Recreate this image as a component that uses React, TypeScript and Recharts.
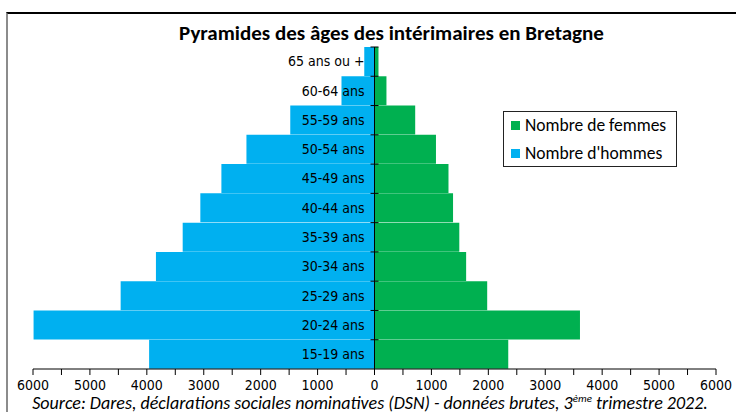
import { BarChart, Bar, XAxis, YAxis, ReferenceLine, Legend, LabelList } from 'recharts'

// Pyramide des âges des intérimaires en Bretagne (Dares, DSN, T3 2022).
// Hommes à gauche (valeurs négatives), femmes à droite, barres empilées par signe.

const AGES = [
  '15-19 ans', '20-24 ans', '25-29 ans', '30-34 ans', '35-39 ans', '40-44 ans',
  '45-49 ans', '50-54 ans', '55-59 ans', '60-64 ans', '65 ans ou +',
]
const HOMMES = [3960, 5990, 4460, 3840, 3370, 3060, 2690, 2250, 1480, 580, 180]
const FEMMES = [2350, 3610, 1980, 1610, 1490, 1380, 1300, 1080, 715, 210, 70]
const X_TICKS = [
  -6000, -5500, -5000, -4500, -4000, -3500, -3000, -2500, -2000, -1500, -1000, -500,
  0, 500, 1000, 1500, 2000, 2500, 3000, 3500, 4000, 4500, 5000, 5500, 6000,
]

const BLUE = '#00B0F0'
const GREEN = '#00B050'
const NARROW = "'Liberation Sans Narrow', 'Arial Narrow', 'DejaVu Sans Condensed', sans-serif"
const CALIBRI = "Carlito, Calibri, Lato, sans-serif"

const data = AGES.map((age, i) => ({ age, hommes: -HOMMES[i], femmes: FEMMES[i] }))

// libellé de classe d'âge + petite graduation sur l'axe central
function AgeLabel(props: any) {
  const { x, y, height, value } = props
  return (
    <g>
      <line x1={x - 4} x2={x + 4} y1={y} y2={y} stroke="#000" />
      <text x={x - 10} y={y + height / 2} dy="0.35em" textAnchor="end"
        fontFamily={NARROW} fontSize={14} fill="#000">{value}</text>
    </g>
  )
}

function LegendBox({ payload }: any) {
  const items = [...(payload ?? [])].reverse()
  return (
    <div style={{
      border: '1px solid #222', background: '#fff', width: 174, height: 56,
      fontFamily: CALIBRI, fontSize: 17.5, color: '#000', boxSizing: 'border-box', padding: '2px 0 0 7px',
    }}>
      {items.map((p: any) => (
        <div key={p.value} style={{ display: 'flex', alignItems: 'center', height: 22, marginBottom: 6, whiteSpace: 'nowrap' }}>
          <span style={{ width: 9, height: 9, background: p.color, marginRight: 5, display: 'inline-block', flex: 'none' }} />
          {p.value}
        </div>
      ))}
    </div>
  )
}

export default function App() {
  return (
    <div style={{ position: 'absolute', left: 0, top: 0, width: 736, height: 412, overflow: 'hidden', background: '#fff' }}>
      <div style={{
        position: 'absolute', left: 6, top: 12, width: 760, height: 440,
        borderTop: '2px solid #000', borderLeft: '2px solid #8c8c8c',
      }} />
      <div style={{
        position: 'absolute', left: 0, width: 783, top: 19, textAlign: 'center',
        fontFamily: CALIBRI, fontWeight: 700, fontSize: 21, color: '#000', lineHeight: '28px',
      }}>
        Pyramides des âges des intérimaires en Bretagne
      </div>
      <div style={{ position: 'absolute', left: 0, top: 0 }}>
        <BarChart
          width={736}
          height={412}
          data={data}
          layout="vertical"
          stackOffset="sign"
          barCategoryGap={0}
          margin={{ top: 47, left: 33, right: 20, bottom: 13 }}
        >
          <XAxis
            type="number"
            domain={[-6000, 6000]}
            ticks={X_TICKS}
            interval={0}
            tickFormatter={(v: number) => (v % 1000 === 0 ? String(Math.abs(v)) : '')}
            axisLine={{ stroke: '#000' }}
            tickLine={{ stroke: '#000' }}
            tickSize={6}
            height={30}
            tick={{ fill: '#000', fontSize: 14, fontFamily: NARROW, dy: 3 }}
          />
          <YAxis type="category" dataKey="age" reversed hide />
          <Legend
            layout="vertical"
            align="center"
            verticalAlign="middle"
            content={<LegendBox />}
            wrapperStyle={{ position: 'absolute', left: 503, top: 111, width: 174, height: 56 }}
          />
          <Bar dataKey="hommes" name="Nombre d'hommes" stackId="p" fill={BLUE} isAnimationActive={false} />
          <Bar dataKey="femmes" name="Nombre de femmes" stackId="p" fill={GREEN} isAnimationActive={false}>
            <LabelList dataKey="age" content={<AgeLabel />} />
          </Bar>
          <ReferenceLine x={0} stroke="#000" />
        </BarChart>
      </div>
      <div style={{
        position: 'absolute', left: 0, width: 740, top: 392, textAlign: 'center', whiteSpace: 'nowrap',
        fontFamily: CALIBRI, fontStyle: 'italic', fontSize: 18, color: '#000', lineHeight: '22px',
      }}>
        Source: Dares, déclarations sociales nominatives (DSN) - données brutes, 3<sup style={{ fontSize: 11, lineHeight: 0 }}>ème</sup> trimestre 2022.
      </div>
    </div>
  )
}
